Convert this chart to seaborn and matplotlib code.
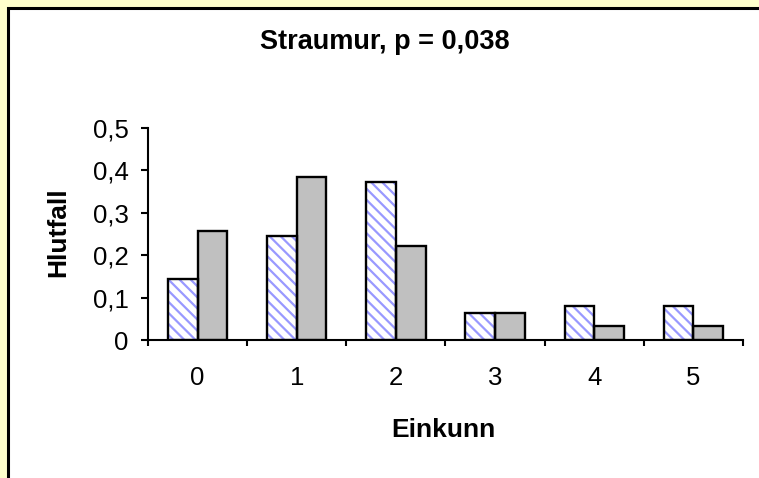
import matplotlib
matplotlib.use('Agg')
import matplotlib.pyplot as plt
import seaborn as sns
import pandas as pd
from matplotlib.patches import Rectangle
from matplotlib.ticker import FixedLocator

# ---- data ----
categories = ['0', '1', '2', '3', '4', '5']
series_names = ['A', 'B']
values_a = [0.144, 0.246, 0.373, 0.063, 0.080, 0.080]   # hatched series
values_b = [0.257, 0.385, 0.222, 0.063, 0.033, 0.033]   # grey series
y_ticks = [0.0, 0.1, 0.2, 0.3, 0.4, 0.5]
y_tick_labels = ['0', '0,1', '0,2', '0,3', '0,4', '0,5']
title_text = 'Straumur, p = 0,038'
x_label = 'Einkunn'
y_label = 'Hlutfall'

sns.set_theme(style='white')
plt.rcParams['font.family'] = ['Liberation Sans', 'DejaVu Sans']
plt.rcParams['hatch.linewidth'] = 1.6
plt.rcParams['text.color'] = 'black'

df = pd.DataFrame({
    'Einkunn': categories + categories,
    'Hlutfall': values_a + values_b,
    'Hopur': [series_names[0]] * len(categories) + [series_names[1]] * len(categories),
})

W, H = 759, 478
fig = plt.figure(figsize=(W / 100, H / 100), dpi=100, facecolor='#FFFFCC')
fig.patches.append(Rectangle((7.5 / W, -0.05), 1.0, 1 - 7.5 / H + 0.05,
                             transform=fig.transFigure, facecolor='white',
                             edgecolor='black', linewidth=2.2, zorder=-5))

ax = fig.add_axes([148 / W, (H - 340) / H, (743 - 148) / W, (340 - 128) / H])
ax.set_facecolor('none')
ax.set_zorder(2)

# fill layer (hatch drawn in blue, no outline)
sns.barplot(data=df, x='Einkunn', y='Hlutfall', hue='Hopur', order=categories,
            hue_order=series_names,
            palette={series_names[0]: 'white', series_names[1]: '#C0C0C0'},
            width=0.6, gap=0, linewidth=0, edgecolor='#9999FF',
            saturation=1, legend=False, errorbar=None, ax=ax)
for p in ax.containers[0]:
    p.set_hatch('\\\\\\')
    p.set_edgecolor('#9999FF')
    p.set_linewidth(0)

# outline layer
sns.barplot(data=df, x='Einkunn', y='Hlutfall', hue='Hopur', order=categories,
            hue_order=series_names,
            palette={series_names[0]: 'black', series_names[1]: 'black'},
            width=0.6, gap=0, fill=False, linewidth=1.7,
            saturation=1, legend=False, errorbar=None, ax=ax)

ax.set_xlim(-0.5, len(categories) - 0.5)
ax.set_ylim(0, 0.5)
ax.set_yticks(y_ticks)
ax.set_yticklabels(y_tick_labels)
ax.set_xticks(range(len(categories)))
ax.set_xticklabels(categories)
ax.xaxis.set_minor_locator(FixedLocator([i - 0.5 for i in range(len(categories) + 1)]))

ax.tick_params(axis='x', which='major', length=0, pad=19, labelsize=18.5, colors='black')
ax.tick_params(axis='x', which='minor', length=4.5, width=1.5, direction='out',
               bottom=True, color='black')
ax.tick_params(axis='y', which='major', length=5, width=1.5, direction='out',
               left=True, pad=9, labelsize=18.5, colors='black')

for s in ['top', 'right']:
    ax.spines[s].set_visible(False)
for s in ['left', 'bottom']:
    ax.spines[s].set_color('black')
    ax.spines[s].set_linewidth(1.5)
ax.set_xlabel('')
ax.set_ylabel('')

fig.text(385 / W, 1 - 42 / H, title_text, ha='center', va='center',
         fontsize=19.5, fontweight='bold', color='black')
fig.text(443 / W, 1 - 430 / H, x_label, ha='center', va='center',
         fontsize=19, fontweight='bold', color='black')
fig.text(58 / W, 1 - 232 / H, y_label, ha='center', va='center', rotation=90,
         fontsize=19, fontweight='bold', color='black')

fig.savefig('out.png', dpi=100, facecolor=fig.get_facecolor())
